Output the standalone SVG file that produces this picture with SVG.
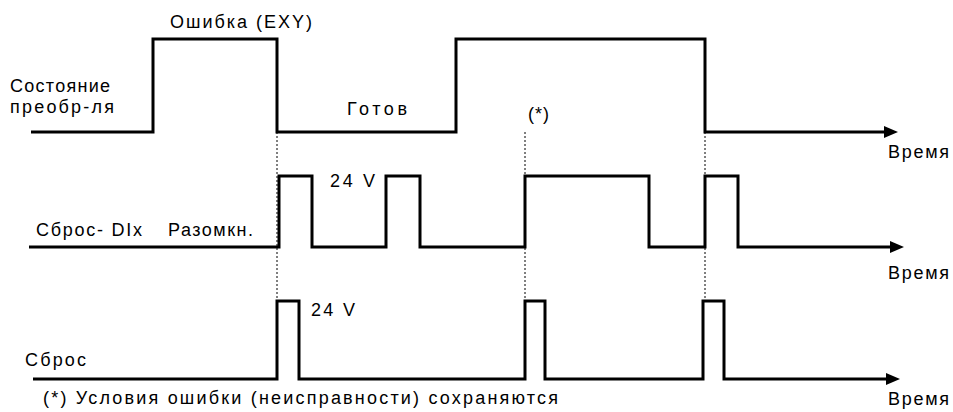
<svg xmlns="http://www.w3.org/2000/svg" width="953" height="412" viewBox="0 0 953 412">
<style>
.sig{fill:none;stroke:#000;stroke-width:3;stroke-linejoin:miter}
.dot{fill:none;stroke:#000;stroke-width:1;stroke-dasharray:2 2}
.t{font-family:"Liberation Sans",Arial,sans-serif;font-size:18px;fill:#000}
</style>
<rect width="953" height="412" fill="#fff"/>
<g id="connectors">
<line class="dot" x1="277" y1="132" x2="277" y2="301"/>
<line class="dot" x1="525" y1="132" x2="525" y2="301"/>
<line class="dot" x1="705" y1="132" x2="705" y2="301"/>
</g>
<g id="signal-state">
<path class="sig" d="M31,132 H153 V39 H277 V132 H456 V39 H705 V132 H885"/>
<polygon points="884,126 898,132 884,138" fill="#000"/>
<text class="t" x="170" y="28" textLength="142" lengthAdjust="spacing">Ошибка (EXY)</text>
<text class="t" x="10" y="92" textLength="100" lengthAdjust="spacing">Состояние</text>
<text class="t" x="10" y="113" textLength="104" lengthAdjust="spacing">преобр-ля</text>
<text class="t" x="347" y="115" textLength="60" lengthAdjust="spacing">Готов</text>
<text class="t" x="528" y="120" textLength="21" lengthAdjust="spacing">(*)</text>
<text class="t" x="888" y="158" textLength="61" lengthAdjust="spacing">Время</text>
</g>
<g id="signal-reset-dix">
<path class="sig" d="M29,247 H279 V176 H312 V247 H386 V176 H420 V247 H525 V176 H649 V247 H705 V176 H738 V247 H891"/>
<polygon points="890,241 904,247 890,253" fill="#000"/>
<text class="t" x="36" y="236" textLength="106" lengthAdjust="spacing">Сброс- DIx</text>
<text class="t" x="168" y="236" textLength="85" lengthAdjust="spacing">Разомкн.</text>
<text class="t" x="330" y="187" textLength="45" lengthAdjust="spacing">24 V</text>
<text class="t" x="888" y="279" textLength="61" lengthAdjust="spacing">Время</text>
</g>
<g id="signal-reset">
<path class="sig" d="M33,379 H277 V301 H299 V379 H525 V301 H545 V379 H703 V301 H724 V379 H887"/>
<polygon points="886,373 900,379 886,385" fill="#000"/>
<text class="t" x="311" y="316" textLength="44" lengthAdjust="spacing">24 V</text>
<text class="t" x="25" y="366" textLength="61" lengthAdjust="spacing">Сброс</text>
<text class="t" x="888" y="405" textLength="61" lengthAdjust="spacing">Время</text>
</g>
<g id="footnote">
<text class="t" x="43" y="404" textLength="515" lengthAdjust="spacing">(*) Условия ошибки (неисправности) сохраняются</text>
</g>
</svg>
